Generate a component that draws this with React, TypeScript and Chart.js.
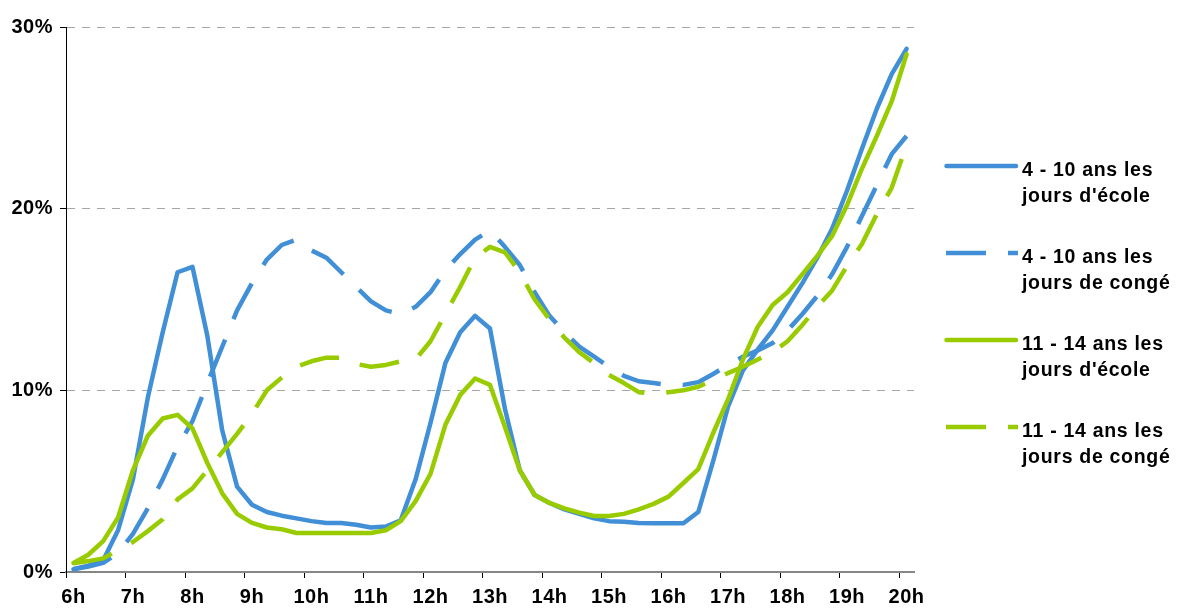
import React, { useEffect, useRef } from 'react';
import { Chart, registerables } from 'chart.js';

Chart.register(...registerables);

// 15-minute categories from 6h00 to 20h00
const categories = [
  '6h00', '6h15', '6h30', '6h45', '7h00', '7h15', '7h30', '7h45',
  '8h00', '8h15', '8h30', '8h45', '9h00', '9h15', '9h30', '9h45',
  '10h00', '10h15', '10h30', '10h45', '11h00', '11h15', '11h30', '11h45',
  '12h00', '12h15', '12h30', '12h45', '13h00', '13h15', '13h30', '13h45',
  '14h00', '14h15', '14h30', '14h45', '15h00', '15h15', '15h30', '15h45',
  '16h00', '16h15', '16h30', '16h45', '17h00', '17h15', '17h30', '17h45',
  '18h00', '18h15', '18h30', '18h45', '19h00', '19h15', '19h30', '19h45',
  '20h00',
];

const hourLabels = ['6h', '7h', '8h', '9h', '10h', '11h', '12h', '13h', '14h', '15h', '16h', '17h', '18h', '19h', '20h'];

const yTicks = [0, 10, 20, 30];

const ecole410 = [
  0.15, 0.35, 0.65, 2.3, 5.1, 9.6, 13.2, 16.5,
  16.8, 13.0, 7.8, 4.7, 3.7, 3.3, 3.1, 2.95,
  2.8, 2.7, 2.7, 2.6, 2.45, 2.5, 2.85, 5.1,
  8.2, 11.5, 13.2, 14.1, 13.4, 9.0, 5.6, 4.24,
  3.8, 3.45, 3.2, 2.95, 2.8, 2.77, 2.7, 2.68,
  2.68, 2.68, 3.3, 6.1, 9.1, 11.1, 12.25, 13.3,
  14.6, 15.9, 17.3, 18.9, 21.0, 23.3, 25.5, 27.4,
  28.8,
];

const conge410 = [
  0.15, 0.3, 0.5, 1.05, 2.1, 3.5, 5.1, 6.9,
  8.3, 10.4, 12.4, 14.4, 15.9, 17.2, 18.0, 18.3,
  17.7, 17.3, 16.5, 15.7, 14.9, 14.4, 14.2, 14.6,
  15.4, 16.6, 17.5, 18.3, 18.8, 17.9, 16.9, 15.4,
  14.1, 13.2, 12.4, 11.85, 11.3, 10.8, 10.5, 10.4,
  10.3, 10.3, 10.45, 10.9, 11.4, 11.85, 12.2, 12.6,
  13.3, 14.2, 15.2, 16.4, 17.9, 19.6, 21.3, 23.0,
  24.0,
];

const ecole1114 = [
  0.5, 0.95, 1.7, 3.0, 5.6, 7.5, 8.45, 8.65,
  7.9, 6.0, 4.33, 3.2, 2.7, 2.45, 2.35, 2.15,
  2.15, 2.15, 2.15, 2.15, 2.15, 2.3, 2.8, 3.9,
  5.4, 8.1, 9.75, 10.65, 10.3, 8.0, 5.6, 4.24,
  3.8, 3.5, 3.27, 3.08, 3.08, 3.2, 3.45, 3.75,
  4.15, 4.9, 5.66, 7.65, 9.5, 11.7, 13.5, 14.7,
  15.4, 16.4, 17.4, 18.5, 20.2, 22.2, 24.0, 25.9,
  28.5,
];

const conge1114 = [
  0.48, 0.6, 0.75, 1.2, 1.65, 2.25, 2.9, 4.0,
  4.6, 5.6, 6.6, 7.6, 8.7, 10.0, 10.7, 11.3,
  11.6, 11.8, 11.8, 11.45, 11.3, 11.4, 11.6, 11.7,
  12.7, 14.2, 15.7, 17.3, 17.9, 17.6, 16.5, 15.0,
  13.9, 12.9, 12.1, 11.5, 10.85, 10.4, 9.9, 9.8,
  9.9, 10.0, 10.2, 10.55, 10.95, 11.3, 11.7, 12.1,
  12.7, 13.6, 14.6, 15.5, 16.85, 18.05, 19.7, 21.15,
  23.5,
];

const seriesLabels = [
  ['4 - 10 ans les', "jours d'école"],
  ['4 - 10 ans les', 'jours de congé'],
  ['11 - 14 ans les', "jours d'école"],
  ['11 - 14 ans les', 'jours de congé'],
];

const BLUE = '#418FD6';
const GREEN = '#99CC00';
const DASH = [40, 22];
const FONT_FAMILY = '"Liberation Sans", Arial, Helvetica, sans-serif';

const letterSpacingPlugin = {
  id: 'letterSpacing',
  beforeLayout(chart: any) {
    (chart.ctx as any).letterSpacing = '0.5px';
  },
  beforeDraw(chart: any) {
    (chart.ctx as any).letterSpacing = '0.5px';
  },
};

const sideLegend = {
  id: 'sideLegend',
  afterDraw(chart: any) {
    const ctx = chart.ctx as CanvasRenderingContext2D;
    const x0 = 946;
    const x1 = 1018;
    const textX = 1022;
    const top = 166;
    const step = 87;
    ctx.save();
    chart.data.datasets.forEach((ds: any, i: number) => {
      const y = top + i * step;
      ctx.beginPath();
      ctx.strokeStyle = ds.borderColor;
      ctx.lineWidth = ds.borderWidth;
      if (ds.borderDash && ds.borderDash.length) {
        ctx.setLineDash(ds.borderDash);
        ctx.lineCap = 'butt';
        ctx.moveTo(x0, y);
        ctx.lineTo(x1, y);
      } else {
        ctx.setLineDash([]);
        ctx.lineCap = 'round';
        ctx.moveTo(x0 + 0.5, y);
        ctx.lineTo(x1 - 2, y);
      }
      ctx.stroke();
      ctx.setLineDash([]);
      ctx.fillStyle = '#000';
      ctx.font = `bold 19.5px ${FONT_FAMILY}`;
      (ctx as any).letterSpacing = '0.7px';
      ctx.textAlign = 'left';
      ctx.textBaseline = 'alphabetic';
      const lines = seriesLabels[i];
      ctx.fillText(lines[0], textX, y + 10);
      ctx.fillText(lines[1], textX, y + 36);
    });
    ctx.restore();
  },
};

export default function App() {
  const canvasRef = useRef<HTMLCanvasElement | null>(null);

  useEffect(() => {
    const canvas = canvasRef.current;
    if (!canvas) return;
    const tickFont = { family: FONT_FAMILY, size: 20, weight: 'bold' as const };
    const chart = new Chart(canvas, {
      type: 'line',
      data: {
        labels: categories,
        datasets: [
          {
            label: seriesLabels[0].join(' '),
            data: ecole410,
            borderColor: BLUE,
            borderWidth: 4.5,
            borderCapStyle: 'round',
            borderJoinStyle: 'round',
            pointRadius: 0,
            tension: 0,
            fill: false,
            order: 4,
          },
          {
            label: seriesLabels[1].join(' '),
            data: conge410,
            borderColor: BLUE,
            borderWidth: 4.5,
            borderDash: DASH,
            borderCapStyle: 'butt',
            borderJoinStyle: 'round',
            pointRadius: 0,
            tension: 0,
            fill: false,
            order: 3,
          },
          {
            label: seriesLabels[2].join(' '),
            data: ecole1114,
            borderColor: GREEN,
            borderWidth: 4.5,
            borderCapStyle: 'round',
            borderJoinStyle: 'round',
            pointRadius: 0,
            tension: 0,
            fill: false,
            order: 2,
          },
          {
            label: seriesLabels[3].join(' '),
            data: conge1114,
            borderColor: GREEN,
            borderWidth: 4.5,
            borderDash: DASH,
            borderCapStyle: 'butt',
            borderJoinStyle: 'round',
            pointRadius: 0,
            tension: 0,
            fill: false,
            order: 1,
          },
        ],
      },
      options: {
        responsive: false,
        animation: false,
        layout: { padding: { left: 0, right: 265, top: 27, bottom: 0 } },
        plugins: {
          legend: { display: false },
          tooltip: { enabled: false },
          title: { display: false },
        },
        scales: {
          x: {
            type: 'category',
            offset: true,
            grid: {
              display: true,
              drawOnChartArea: false,
              drawTicks: true,
              offset: true,
              tickLength: 6,
              tickWidth: 1,
              tickColor: (c: any) =>
                c.index !== undefined && c.index % 4 === 0 ? '#000' : 'rgba(0,0,0,0)',
            },
            border: { display: true, color: '#868686', width: 2 },
            ticks: {
              autoSkip: false,
              maxRotation: 0,
              minRotation: 0,
              padding: 7,
              color: '#000',
              font: tickFont,
              callback: (_v: any, index: number) => (index % 4 === 0 ? hourLabels[index / 4] : ''),
            },
            afterFit: (s: any) => {
              s.height = 39;
            },
          },
          y: {
            type: 'linear',
            min: yTicks[0],
            max: yTicks[yTicks.length - 1],
            afterBuildTicks: (s: any) => {
              s.ticks = yTicks.map((v) => ({ value: v }));
            },
            grid: {
              display: true,
              drawOnChartArea: true,
              drawTicks: true,
              tickLength: 6,
              tickWidth: 1,
              tickColor: '#000',
              lineWidth: 1,
              color: (c: any) => (c.tick && c.tick.value === 0 ? 'rgba(0,0,0,0)' : '#A6A6A6'),
            },
            border: { display: true, color: '#000', width: 1, dash: [8, 7] },
            ticks: {
              padding: 7,
              color: '#000',
              font: tickFont,
              callback: (v: any) => `${v}%`,
            },
            afterFit: (s: any) => {
              s.width = 66;
            },
          },
        },
      },
      plugins: [letterSpacingPlugin, sideLegend],
    });
    return () => chart.destroy();
  }, []);

  return (
    <div style={{ position: 'fixed', left: 0, top: 0, width: 1179, height: 611, background: '#fff' }}>
      <canvas ref={canvasRef} width={1179} height={611} style={{ width: 1179, height: 611, display: 'block' }} />
    </div>
  );
}
